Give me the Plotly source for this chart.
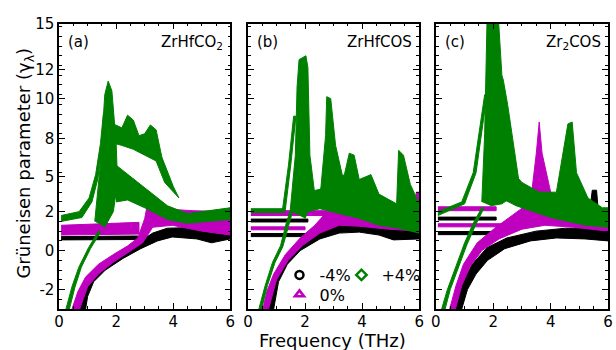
import plotly.graph_objects as go

# ---------------- data (x: THz, y: Grueneisen parameter as placed on the axis) ----------------
# each series is a set of bands (closed outlines) separated by None
a_m4_x = [0.07, 2.76, 2.76, 0.07, None,
          0.72, 0.86, 1.14, 1.55, 2.17, 2.76, 3.28, 3.79, 5.0, 6.0, 6.0, 5.34, 4.83, 3.97, 3.45, 2.86, 2.24, 1.62, 1.21, 1.0, 0.93]
a_m4_y = [0.72, 0.75, 0.57, 0.55, None,
          -3.0, -2.1, -1.2, -0.7, -0.1, 0.4, 0.9, 1.15, 1.2, 1.1, 0.6, 0.4, 0.6, 0.7, 0.5, 0.1, -0.4, -1.0, -1.6, -2.35, -3.0]

a_0_x = [0.07, 2.8, 2.8, 0.07, None,
         0.45, 0.66, 0.93, 1.38, 1.9, 2.41, 2.76, 3.0, 3.1, 3.62, 4.66, 6.0, 6.0, 5.0, 3.97, 3.28, 2.93, 2.41, 1.9, 1.38, 1.0, 0.72]
a_0_y = [1.3, 1.45, 0.85, 0.8, None,
         -3.0, -2.1, -1.35, -0.7, -0.2, 0.25, 0.65, 1.65, 2.4, 2.15, 2.05, 2.0, 0.8, 1.0, 1.3, 1.2, 0.4, -0.1, -0.6, -1.2, -1.85, -3.0]

a_p4_x = [0.07, 0.7, 1.05, 1.28, 1.45, 1.55, 1.62, 1.5, 1.36, 1.15, 0.8, 0.07, None,
          0.24, 0.45, 0.69, 1.03, 1.38, 1.45, 1.1, 0.78, 0.55, 0.36, None,
          1.25, 1.45, 1.6, 1.72, 1.85, 2.0, 2.05, 1.9, 1.6, None,
          1.9, 2.2, 2.4, 2.6, 2.8, 3.0, 3.2, 3.4, 3.6, 4.0, 4.2, 3.7, 3.4, 3.0, 2.6, 2.2, 1.95, None,
          1.9, 2.5, 3.2, 3.8, 4.5, 6.0, 6.0, 4.5, 3.8, 3.0, 2.4, 2.0]
a_p4_y = [1.8, 2.0, 2.7, 3.9, 5.5, 7.0, 7.0, 5.3, 3.7, 2.5, 1.7, 1.5, None,
          -3.0, -1.85, -0.85, 0.15, 1.0, 0.95, 0.1, -0.85, -1.9, -3.0, None,
          1.5, 4.5, 8.0, 8.7, 8.2, 5.5, 3.5, 2.0, 1.2, None,
          6.5, 6.3, 6.95, 6.7, 5.9, 6.0, 6.45, 6.2, 4.8, 3.3, 2.7, 3.5, 4.6, 4.9, 5.2, 5.4, 5.5, None,
          4.5, 3.8, 3.0, 2.3, 1.9, 2.2, 1.6, 1.4, 1.6, 2.2, 2.6, 2.5]

b_m4_x = [0.1, 2.1, 2.1, 0.1, None,
          0.1, 2.5, 2.5, 0.1, None,
          0.66, 0.79, 1.03, 1.48, 2.07, 2.76, 3.45, 4.34, 5.1, 6.0, 6.0, 5.1, 4.59, 3.9, 3.2, 2.52, 1.83, 1.38, 1.07, 0.9, None,
          5.75, 5.85, 5.95, 6.0]
b_m4_y = [1.62, 1.62, 1.47, 1.47, None,
          0.88, 0.88, 0.72, 0.72, None,
          -3.0, -2.1, -1.1, 0.0, 0.8, 1.25, 1.45, 1.35, 1.15, 1.1, 0.6, 0.55, 0.8, 0.95, 0.9, 0.6, 0.0, -0.7, -1.6, -3.0, None,
          1.5, 2.7, 2.7, 1.5]

b_0_x = [0.1, 2.76, 2.76, 0.1, None,
         0.1, 2.0, 2.0, 0.1, None,
         0.52, 0.66, 0.9, 1.31, 1.83, 2.34, 2.86, 3.14, 3.55, 4.24, 5.1, 6.0, 6.0, 4.93, 3.9, 3.2, 2.52, 1.9, 1.41, 1.0, 0.72, None,
         5.8, 5.9, 6.0, 6.0]
b_0_y = [2.05, 2.05, 1.8, 1.8, None,
         1.22, 1.22, 1.07, 1.07, None,
         -3.0, -2.1, -1.2, -0.2, 0.65, 1.3, 2.15, 2.6, 2.4, 1.9, 1.8, 1.8, 1.0, 1.1, 1.25, 1.3, 0.9, 0.25, -0.5, -1.5, -3.0, None,
         1.8, 3.0, 3.0, 1.8]

b_p4_x = [0.1, 1.24, 1.24, 0.1, None,
          1.2, 1.42, 1.6, 1.68, 1.5, 1.3, None,
          0.38, 0.59, 0.86, 1.14, 1.34, 1.48, 1.56, 1.42, 1.22, 0.95, 0.68, 0.48, None,
          1.48, 1.66, 1.72, 1.79, 2.03, 2.1, 2.17, 2.34, 2.0, None,
          2.52, 2.72, 2.76, 2.9, 3.07, 3.38, 3.2, None,
          1.83, 2.52, 3.38, 3.55, 3.72, 3.9, 4.31, 4.59, 5.21, 5.28, 5.45, 5.69, 6.0, 6.0, 5.28, 4.59, 3.9, 3.2, 2.52, 1.83]
b_p4_y = [2.15, 2.15, 1.95, 1.95, None,
          2.0, 4.4, 6.9, 6.9, 4.4, 2.0, None,
          -3.0, -1.85, -0.6, 0.25, 1.4, 2.05, 2.0, 1.3, 0.2, -0.6, -1.8, -3.0, None,
          2.05, 4.9, 8.4, 9.8, 10.0, 9.4, 4.9, 2.9, 1.65, None,
          2.65, 5.9, 7.9, 7.8, 5.4, 3.4, 2.4, None,
          2.9, 3.15, 3.9, 5.0, 4.9, 3.65, 3.9, 2.9, 2.4, 5.15, 4.9, 3.4, 2.4, 0.9, 1.15, 1.3, 1.65, 1.9, 2.15, 1.9]

c_m4_x = [0.07, 2.1, 2.1, 0.07, None,
          0.07, 2.4, 2.4, 0.07, None,
          0.68, 0.92, 1.27, 1.78, 2.47, 3.49, 4.52, 5.55, 6.0, 6.0, 5.2, 4.2, 3.3, 2.4, 1.8, 1.4, 1.1, 0.9, None,
          4.8, 4.95, 5.1, 5.2, None,
          5.3, 5.45, 5.6, 5.7]
c_m4_y = [1.72, 1.72, 1.57, 1.57, None,
          0.98, 0.98, 0.82, 0.82, None,
          -3.0, -1.6, -0.7, 0.15, 0.65, 1.0, 1.15, 1.15, 1.0, 0.5, 0.6, 0.65, 0.5, 0.1, -0.5, -1.2, -2.0, -3.0, None,
          1.3, 3.1, 3.1, 1.3, None,
          1.3, 3.1, 3.1, 1.3]

c_0_x = [0.07, 2.1, 2.1, 0.07, None,
         0.07, 2.3, 2.3, 0.07, None,
         0.48, 0.7, 0.96, 1.44, 2.05, 2.74, 3.3, 3.5, 3.6, 3.7, 4.0, 4.8, 6.0, 6.0, 4.8, 3.8, 3.0, 2.2, 1.6, 1.2, 0.9, 0.68]
c_0_y = [2.25, 2.25, 2.05, 2.05, None,
         1.38, 1.38, 1.22, 1.22, None,
         -3.0, -1.8, -0.7, 0.4, 1.15, 1.9, 2.5, 5.0, 6.6, 5.0, 3.0, 2.3, 2.0, 1.0, 1.2, 1.3, 1.1, 0.6, 0.0, -0.8, -1.8, -3.0]

c_p4_x = [0.07, 0.9, 1.3, 1.7, 1.78, 1.4, 1.0, 0.07, None,
          0.2, 0.4, 0.7, 1.0, 1.3, 1.6, 1.68, 1.38, 1.08, 0.8, 0.5, 0.32, None,
          1.6, 1.7, 1.78, 2.19, 2.3, 2.35, 2.5, 2.75, 2.9, 2.7, 2.3, 1.9, None,
          2.4, 3.0, 3.6, 4.2, 4.6, 4.75, 4.9, 5.3, 5.8, 6.0, 6.0, 5.2, 4.6, 4.0, 3.4, 2.8, 2.4]
c_p4_y = [2.0, 2.5, 4.0, 8.0, 8.0, 4.0, 2.4, 1.8, None,
          -3.0, -2.0, -0.8, 0.4, 1.4, 2.2, 2.2, 1.3, 0.3, -0.8, -2.0, -3.0, None,
          2.5, 6.0, 11.65, 11.65, 9.0, 8.75, 7.5, 5.0, 3.5, 2.8, 2.4, 2.3, None,
          4.5, 3.5, 3.0, 3.0, 6.5, 6.6, 4.0, 2.7, 2.2, 2.2, 1.2, 1.3, 1.5, 1.7, 2.0, 2.3, 2.6]

series_names = ["-4%", "0%", "+4%"]
series_colors = ["#000000", "#bf00bf", "#008000"]
series_symbols = ["circle-open", "triangle-up-open", "diamond-open"]

panels = [
    ([a_m4_x, a_0_x, a_p4_x], [a_m4_y, a_0_y, a_p4_y]),
    ([b_m4_x, b_0_x, b_p4_x], [b_m4_y, b_0_y, b_p4_y]),
    ([c_m4_x, c_0_x, c_p4_x], [c_m4_y, c_0_y, c_p4_y]),
]
panel_tags = ["(a)", "(b)", "(c)"]
panel_titles = ["ZrHfCO<sub>2</sub>", "ZrHfCOS", "Zr<sub>2</sub>COS"]

y_tickvals = [-2, 0, 2, 3.8, 5.75, 7.8, 9.3, 11.65]
y_ticktext = ["-2", "0", "2", "5", "8", "10", "12", "15"]
x_tickvals = [0, 2, 4, 6]

# ---------------- figure ----------------
W, H = 616, 350
FONT = "DejaVu Sans"
x_domains = [[55 / W, 229 / W], [247 / W, 421 / W], [438 / W, 613 / W]]
y_domain = [1 - 308 / H, 1 - 15 / H]

fig = go.Figure()
for p, (xs, ys) in enumerate(panels):
    ax = "" if p == 0 else str(p + 1)
    for s in range(3):
        fig.add_trace(go.Scatter(
            x=xs[s], y=ys[s], mode="lines", fill="toself",
            fillcolor=series_colors[s], line=dict(color=series_colors[s], width=1),
            xaxis="x" + ax, yaxis="y" + ax, showlegend=False, hoverinfo="skip"))

# legend entries (panel b): one legend per entry
legend_ids = ["legend", "legend2", "legend3"]
for s in range(3):
    fig.add_trace(go.Scatter(
        x=[None], y=[None], mode="markers", name=series_names[s],
        marker=dict(symbol=series_symbols[s], size=8, color=series_colors[s],
                    line=dict(color=series_colors[s], width=2.5)),
        xaxis="x2", yaxis="y2", legend=legend_ids[s]))

axis_common = dict(showline=True, linecolor="black", linewidth=1.5, mirror="ticks",
                   ticks="inside", ticklen=6, tickwidth=1.2, tickcolor="black",
                   showgrid=False, zeroline=False,
                   tickfont=dict(family=FONT, size=15, color="black"))
for p in range(3):
    ax = "" if p == 0 else str(p + 1)
    fig.layout["xaxis" + ax] = dict(axis_common, domain=x_domains[p], range=[0, 6],
                                    tickmode="array", tickvals=x_tickvals,
                                    ticktext=[str(v) for v in x_tickvals],
                                    ticklabelstandoff=-2,
                                    minor=dict(tickmode="linear", tick0=0, dtick=0.5, ticklen=3,
                                               tickcolor="black", ticks="inside"),
                                    anchor="y" + ax)
    fig.layout["yaxis" + ax] = dict(axis_common, domain=y_domain, range=[-3, 11.65],
                                    tickmode="array", tickvals=y_tickvals, ticktext=y_ticktext,
                                    showticklabels=(p == 0),
                                    minor=dict(tickmode="linear", tick0=0, dtick=0.5, ticklen=3,
                                               tickcolor="black", ticks="inside"),
                                    anchor="x" + ax)
    fig.add_annotation(text=panel_tags[p], xref="x" + ax + " domain", yref="y" + ax + " domain",
                       x=0.04, y=0.975, xanchor="left", yanchor="top", showarrow=False,
                       font=dict(family=FONT, size=15, color="black"))
    fig.add_annotation(text=panel_titles[p], xref="x" + ax + " domain", yref="y" + ax + " domain",
                       x=0.97, y=0.975, xanchor="right", yanchor="top", showarrow=False,
                       font=dict(family=FONT, size=15, color="black"))

fig.add_annotation(text="Frequency (THz)", xref="paper", yref="paper", x=333 / W, y=1 - 340 / H,
                   xanchor="center", yanchor="middle", borderpad=0,
                   showarrow=False, font=dict(family=FONT, size=18, color="black"))
fig.add_annotation(text="Grüneisen parameter (γ<sub>λ</sub>)", xref="paper", yref="paper",
                   x=20 / W, y=1 - 158 / H, textangle=-90, xanchor="center", yanchor="middle",
                   showarrow=False, font=dict(family=FONT, size=18, color="black"))

leg = dict(orientation="h", bgcolor="rgba(0,0,0,0)", borderwidth=0,
           font=dict(family=FONT, size=16, color="black"), itemwidth=30,
           xanchor="left", yanchor="middle", tracegroupgap=0)
fig.update_layout(
    width=W, height=H, margin=dict(l=0, r=0, t=0, b=0),
    paper_bgcolor="white", plot_bgcolor="white",
    legend=dict(leg, x=279 / W, y=1 - 273 / H),
    legend2=dict(leg, x=279 / W, y=1 - 293 / H),
    legend3=dict(leg, x=342 / W, y=1 - 273 / H),
    showlegend=True,
)

fig.write_html("out.html")
